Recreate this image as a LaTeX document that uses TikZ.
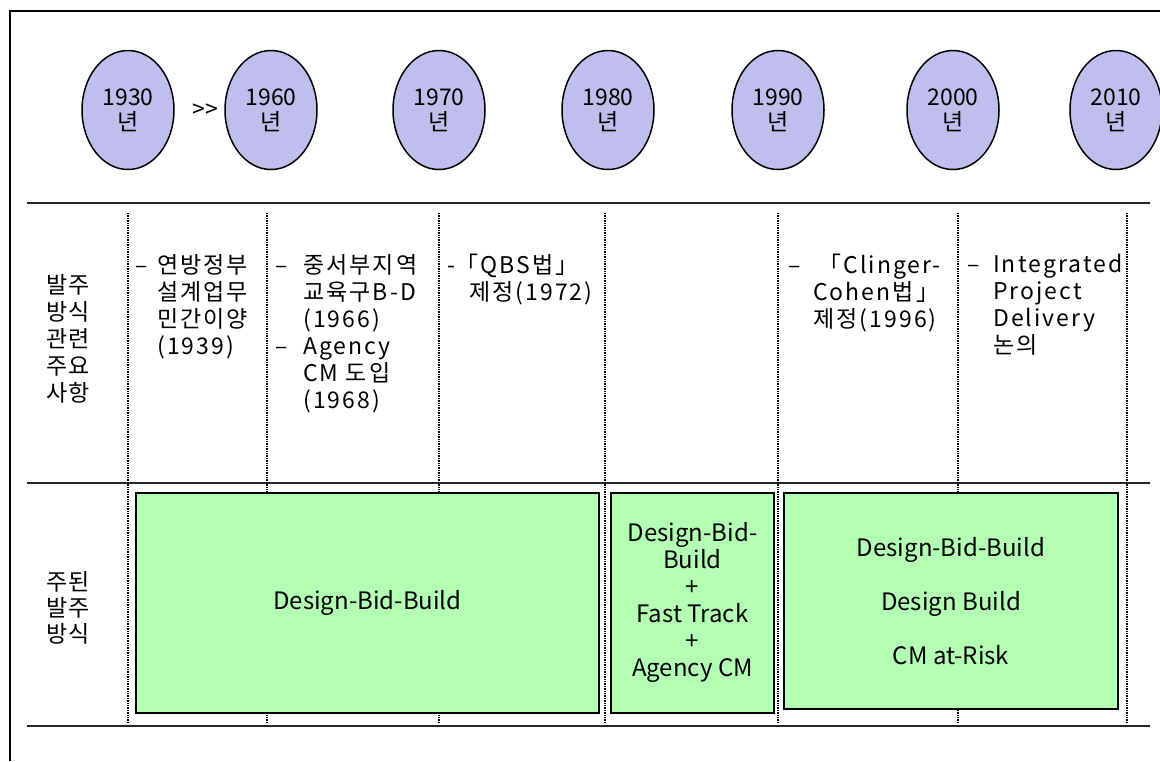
\documentclass[tikz,border=0pt]{standalone}
\usepackage{fontspec}
\setmainfont{Noto Sans CJK KR}
\newfontfamily\notefont[LetterSpace=9]{Noto Sans CJK KR}
\usepackage{xcolor}
\usetikzlibrary{shapes.geometric}
\definecolor{yearfill}{RGB}{192,190,236}
\definecolor{boxfill}{RGB}{179,255,179}

\begin{document}
\begin{tikzpicture}[x=1pt,y=-1pt,
    year/.style={ellipse,draw,line width=1.5pt,fill=yearfill,minimum width=92pt,
      minimum height=119pt,inner sep=0pt,align=center,font=\fontsize{23}{25}\selectfont},
    method/.style={draw,line width=1.8pt,fill=boxfill,align=center,inner sep=0pt,
      font=\fontsize{24}{27}\selectfont},
    note/.style={anchor=north west,inner sep=0pt,align=left,
      font=\notefont\fontsize{23}{27}\selectfont},
    rowname/.style={inner sep=0pt,align=center,font=\fontsize{23}{27}\selectfont},
    rowline/.style={line width=1.2pt,black!85},
    sepline/.style={line width=1.4pt,dash pattern=on 1.4pt off 1pt}]
  \useasboundingbox (0,0) rectangle (1160,761);
  % frame and rows
  \draw[line width=2pt] (10,761) -- (10,11) -- (1160,11);
  \foreach \y in {203,483,726}
    \draw[rowline] (27,\y) -- (1150,\y);
  \foreach \x in {128,267,439,605,778,958,1127}
    \draw[sepline] (\x,213) -- (\x,724);

  % years
  \foreach \yr/\x in {1930/128,1960/271,1970/439,1980/608,1990/778,2000/953,2010/1116}
    \node[year] (y\yr) at (\x,110) {\yr\\년};
  \node[font=\fontsize{23}{25}\selectfont] (skip) at (205,111) {>{}>};

  % row titles
  \node[rowname] (row1) at (68,339) {발주\\방식\\관련\\주요\\사항};
  \node[rowname,font=\fontsize{23}{26}\selectfont] (row2) at (68,608) {주된\\발주\\방식};

  % events
  \node[note] (d1939) at (135,254) {\vphantom{연방정부}–};
  \node[note] (n1939) at (157,254) {연방정부\\설계업무\\민간이양\\(1939)};
  \node[note] (d1966) at (275,254) {\vphantom{중서부지역}–};
  \node[note] (d1968) at (275,254) {\vphantom{중서부지역}\\\\\\–};
  \node[note] (n1966) at (303,254) {중서부지역\\교육구B-D\\(1966)\\Agency\\CM 도입\\(1968)};
  \node[note] (d1972) at (447,254) {\vphantom{「QBS법」}-};
  \node[note] (n1972) at (455,254) {「QBS법」\\\hspace*{14pt}제정(1972)};
  \node[note] (d1996) at (788,254) {\vphantom{「Clinger-}–};
  \node[note] (n1996) at (813,254) {\hspace*{5pt}「Clinger-\\Cohen법」\\제정(1996)};
  \node[note] (dipd) at (967,254) {\vphantom{Integrated}–};
  \node[note] (nipd) at (993,254) {Integrated\\Project\\Delivery\\논의};

  % delivery methods
  \node[method,minimum width=463pt,minimum height=220pt] (dbb) at (367.5,602.7)
    {Design-Bid-Build};
  \node[method,minimum width=163pt,minimum height=220pt] (fast) at (692.5,602.7)
    {Design-Bid-\\Build\\+\\Fast Track\\+\\Agency CM};
  \node[method,minimum width=334pt,minimum height=216pt] (mix) at (951,601)
    {Design-Bid-Build\\[27pt]Design Build\\[27pt]CM at-Risk};
\end{tikzpicture}
\end{document}
